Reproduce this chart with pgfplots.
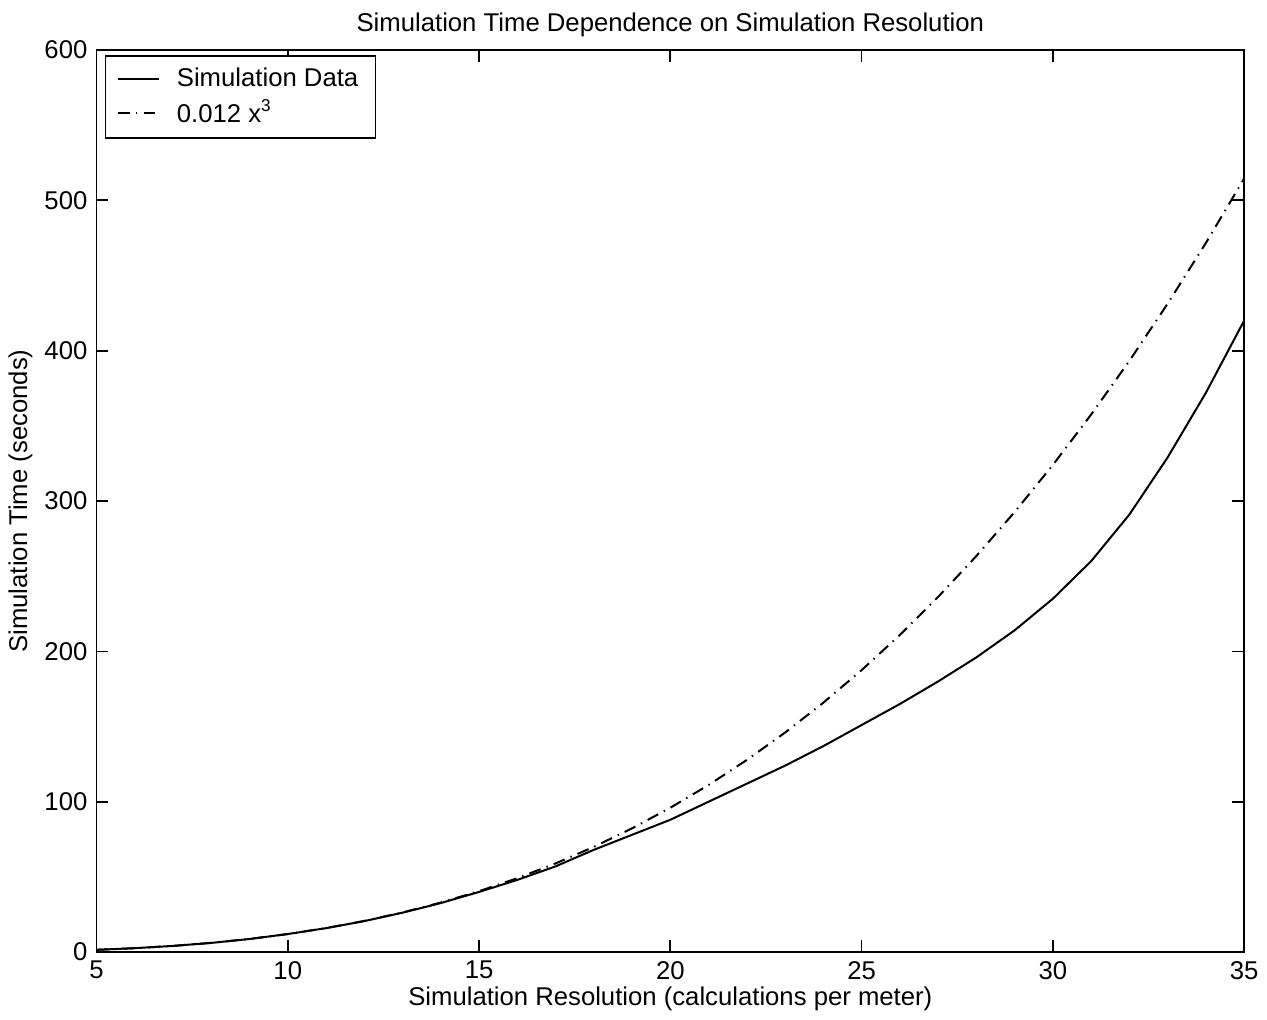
\documentclass[border=0pt]{standalone}
\usepackage{fontspec}
\setmainfont{Liberation Sans}
\usepackage{pgfplots}
\pgfplotsset{compat=1.18}
\begin{document}
\fontsize{9}{11}\selectfont
\begin{tikzpicture}
\begin{axis}[
  scale only axis,
  width=402pt, height=316pt,
  xmin=5, xmax=35, ymin=0, ymax=600,
  xtick={5,10,...,35}, ytick={0,100,...,600},
  tick align=inside,
  major tick length=4.2pt,
  clip mode=individual,
  axis line style={line width=0.6pt},
  every tick/.style={black,line width=0.6pt},
  /pgf/number format/assume math mode=true,
  tick label style={font=\fontsize{9}{11}\selectfont},
  label style={font=\fontsize{9}{11}\selectfont},
  xlabel={Simulation Resolution (calculations per meter)},
  ylabel={Simulation Time (seconds)},
  xlabel style={at={(0.5,-0.052)},anchor=center},
  ylabel style={at={(-0.0662,0.5)},anchor=center},
  legend style={at={(0.007,0.994)},anchor=north west,
    draw=black,line width=0.5pt,fill=white,inner xsep=4pt,inner ysep=2pt,
    font=\fontsize{9}{11}\selectfont,cells={anchor=west},
    row sep=-0.5pt,column sep=4pt},
  legend image code/.code={\draw[#1] (0pt,0pt) -- (14.5pt,0pt);},
  legend image post style={line width=0.6pt},
]
\addplot[black,line width=0.7pt] coordinates {
  (5,1.5) (6,2.6) (7,4.1) (8,6.1) (9,8.7) (10,12) (11,15.9) (12,20.6)
  (13,26.2) (14,32.6) (15,40) (16,48) (17,57) (18,68) (19,78) (20,88)
  (21,100) (22,112) (23,124) (24,137) (25,151) (26,165) (27,180)
  (28,196) (29,214) (30,235) (31,260) (32,291) (33,329) (34,372) (35,420)
};
\addlegendentry{Simulation Data}
\addplot[black,line width=0.7pt,dash pattern=on 4.2pt off 2.2pt on 0.5pt off 2.2pt] coordinates {
  (5,1.5) (6,2.592) (7,4.116) (8,6.144) (9,8.748) (10,12) (11,15.972)
  (12,20.736) (13,26.364) (14,32.928) (15,40.5) (16,49.152) (17,58.956)
  (18,69.984) (19,82.308) (20,96) (21,111.132) (22,127.776) (23,146.004)
  (24,165.888) (25,187.5) (26,210.912) (27,236.196) (28,263.424)
  (29,292.668) (30,324) (31,357.492) (32,393.216) (33,431.244)
  (34,471.648) (35,514.5)
};
\addlegendentry{0.012 x\textsuperscript{3}}
\node[font=\fontsize{9}{11}\selectfont] at (rel axis cs:0.5,1.0277)
  {Simulation Time Dependence on Simulation Resolution};
\path (rel axis cs:1.0191,0.5) (rel axis cs:0.5,1.0554);
\end{axis}
\end{tikzpicture}
\end{document}
